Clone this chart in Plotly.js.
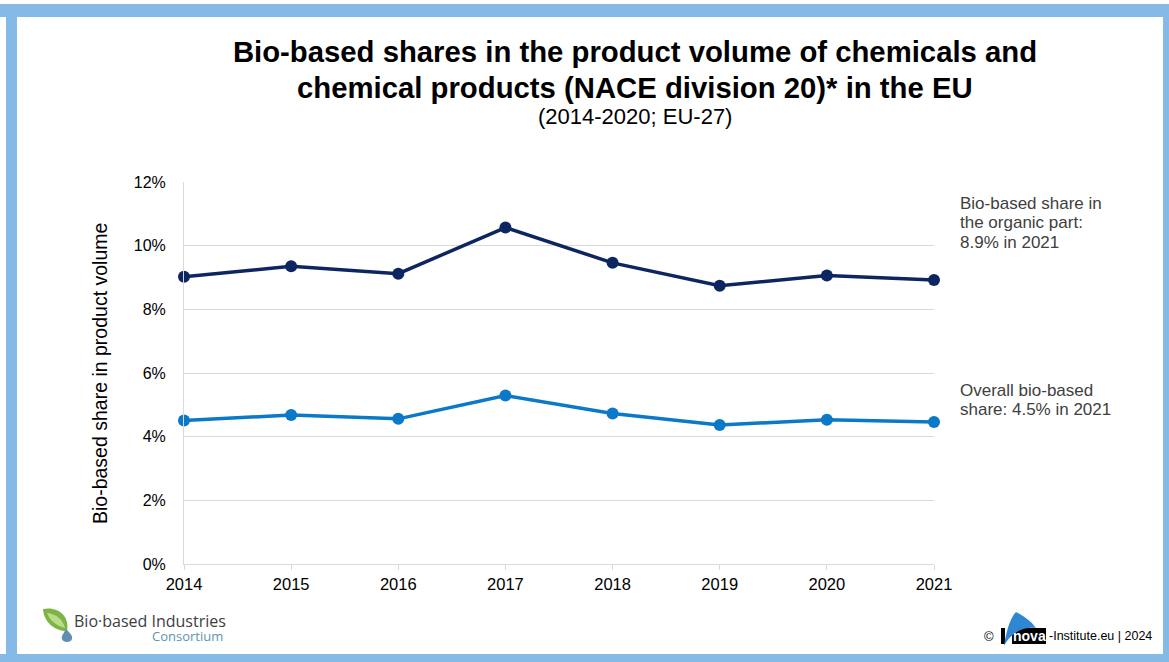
<!DOCTYPE html>
<html>
<head>
<meta charset="utf-8">
<script src="https://cdn.plot.ly/plotly-3.0.1.min.js"></script>
<style>html,body{margin:0;padding:0;background:#fff;}#chart{width:1169px;height:662px;}</style>
</head>
<body>
<div id="chart"></div>
<script>
// ---- data ----
const years = [2014, 2015, 2016, 2017, 2018, 2019, 2020, 2021];
const organicShare = [9.02, 9.35, 9.12, 10.57, 9.46, 8.74, 9.06, 8.92];
const overallShare = [4.51, 4.68, 4.56, 5.29, 4.73, 4.37, 4.53, 4.46];
const yTicks = [0, 2, 4, 6, 8, 10, 12];
const yTickText = ["0%", "2%", "4%", "6%", "8%", "10%", "12%"];

// ---- layout helpers (pixel -> paper) ----
const W = 1169, H = 662, L = 184, R = 934, T = 182, B = 564;
const X = px => (px - L) / (R - L);
const Y = py => (B - py) / (B - T);
const FONT = "Arial, 'Liberation Sans', sans-serif";
function rect(x0, y0, x1, y1, color) {
  return {type: "rect", xref: "paper", yref: "paper", x0: X(x0), x1: X(x1), y0: Y(y1), y1: Y(y0),
          fillcolor: color, line: {width: 0}, layer: "above"};
}
function path(d, color) {
  const s = d.replace(/(-?\d+(?:\.\d+)?),(-?\d+(?:\.\d+)?)/g, (m, a, b) => X(+a).toFixed(5) + "," + Y(+b).toFixed(5));
  return {type: "path", xref: "paper", yref: "paper", path: s, fillcolor: color, line: {width: 0}, layer: "above"};
}
function ann(text, px, py, opts) {
  return Object.assign({xref: "paper", yref: "paper", x: X(px), y: Y(py), text: text, showarrow: false,
    xanchor: "center", yanchor: "middle",
    font: {family: FONT, size: 15, color: "#000"}}, opts || {});
}
const noteFont = {family: FONT, size: 17, color: "#404040"};
const titleFont = {family: FONT, size: 29.3, color: "#000"};

const traces = [
  {x: years, y: organicShare, type: "scatter", mode: "lines+markers", cliponaxis: false,
   line: {color: "#0D2560", width: 3.5}, marker: {color: "#0D2560", size: 12}, hoverinfo: "skip"},
  {x: years, y: overallShare, type: "scatter", mode: "lines+markers", cliponaxis: false,
   line: {color: "#0B78C8", width: 3.5}, marker: {color: "#0B78C8", size: 12}, hoverinfo: "skip"}
];

const border = "#86BAE6";
const layout = {
  width: W, height: H,
  margin: {l: L, r: W - R, t: T, b: H - B, pad: 0},
  paper_bgcolor: "#fff", plot_bgcolor: "#fff",
  showlegend: false,
  font: {family: FONT, color: "#000"},
  title: {text: "<b>Bio-based shares in the product volume of chemicals and</b>",
          font: titleFont, x: 635 / W, xanchor: "center",
          yref: "container", y: 1 - 52 / H, yanchor: "middle"},
  xaxis: {range: [2014, 2021], tickvals: years, ticktext: years.map(String), showgrid: false, zeroline: false,
          showline: true, linecolor: "#D9D9D9", linewidth: 1, ticks: "outside", ticklen: 5, tickcolor: "#D9D9D9",
          tickfont: {family: FONT, size: 16.5, color: "#000"}, fixedrange: true},
  yaxis: {range: [0, 12], tickvals: yTicks, ticktext: yTickText, showgrid: true, gridcolor: "#D9D9D9", gridwidth: 1,
          zeroline: false, showline: true, linecolor: "#D9D9D9", linewidth: 1, ticks: "", ticklabelstandoff: 14,
          tickfont: {family: FONT, size: 16, color: "#000"}, fixedrange: true},
  shapes: [
    rect(0, 4, W, 17, border),
    rect(6, 4, 17, H, border),
    rect(1163, 4, W, H, border),
    rect(0, 654, W, H, border),
    // BIC leaf + drop
    path("M 43,609 C 58,606 70,616 67,631 C 55,631 44,623 43,609 Z", "#7DB443"),
    path("M 47,613 C 57,614 63,620 65,628 C 57,626 50,621 47,613 Z", "#B9DB8A"),
    path("M 66,629 C 70,633 73,636 72,639 C 71,643 63,643 62,639 C 61,636 64,633 66,629 Z", "#5F8FB0"),
    // nova logo
    rect(1001, 628, 1005, 644, "#000"),
    rect(1012, 628, 1046, 644, "#000"),
    path("M 1004,646 C 1006,632 1010,618 1016,612 C 1024,616 1031,621 1036,628 C 1024,627 1012,631 1004,646 Z", "#2F87D2")
  ],
  annotations: [
    ann("<b>chemical products (NACE division 20)* in the EU</b>", 635, 87, {font: titleFont}),
    ann("(2014-2020; EU-27)", 635, 117, {font: {family: FONT, size: 22, color: "#000"}}),
    ann("Bio-based share in product volume", 100, 374, {textangle: -90, font: {family: FONT, size: 19.5, color: "#000"}}),
    ann("Bio-based share in", 958, 203, {xanchor: "left", font: noteFont}),
    ann("the organic part:", 958, 222.5, {xanchor: "left", font: noteFont}),
    ann("8.9% in 2021", 958, 242, {xanchor: "left", font: noteFont}),
    ann("Overall bio-based", 958, 390, {xanchor: "left", font: noteFont}),
    ann("share: 4.5% in 2021", 958, 409.5, {xanchor: "left", font: noteFont}),
    ann("Bio·based Industries", 72, 621, {xanchor: "left", font: {family: "'Open Sans', sans-serif", size: 16, color: "#3E3E3E"}}),
    ann("Consortium", 225, 636, {xanchor: "right", font: {family: "'Open Sans', sans-serif", size: 13, color: "#5E93AE"}}),
    ann("©", 989, 636, {font: {family: FONT, size: 13, color: "#000"}}),
    ann("<b>nova</b>", 1029, 636, {font: {family: FONT, size: 14, color: "#fff"}}),
    ann("-Institute.eu | 2024", 1047, 636, {xanchor: "left", font: {family: FONT, size: 12.5, color: "#000"}})
  ]
};

Plotly.newPlot("chart", traces, layout, {displayModeBar: false, staticPlot: true});
</script>
</body>
</html>
